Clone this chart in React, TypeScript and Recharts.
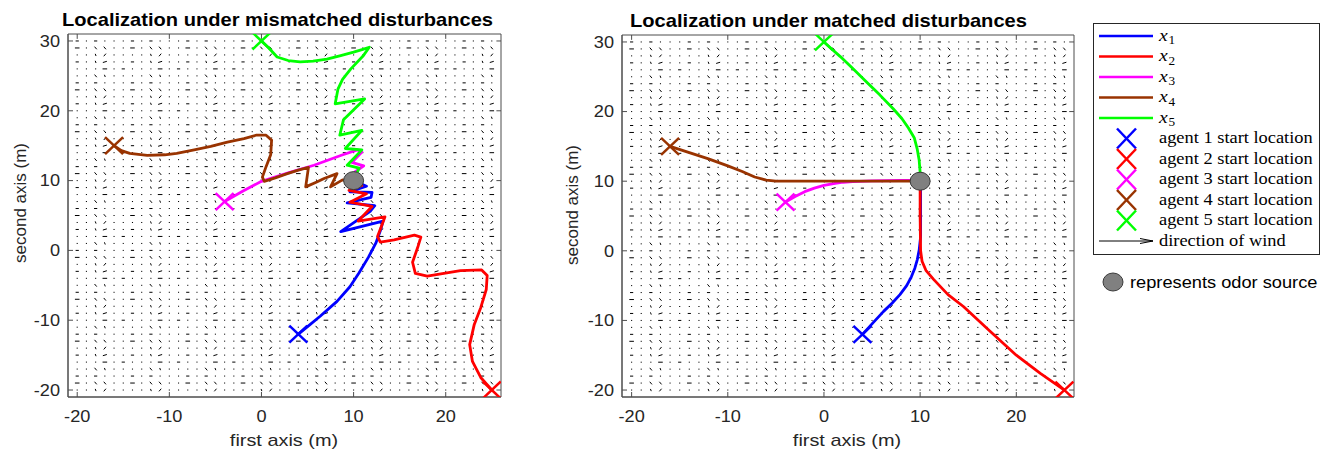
import React from "react";
import { ScatterChart, Scatter, XAxis, YAxis, ReferenceArea, ReferenceLine } from "recharts";

// ---- data ----
const AGENT_COLORS = ["#0000ff", "#ff0000", "#ff00ff", "#993300", "#00ff00"];
const AGENT_NAMES = ["1", "2", "3", "4", "5"];

const X_TICKS = [-20, -10, 0, 10, 20];
const Y_TICKS = [-20, -10, 0, 10, 20, 30];
const X_DOMAIN: [number, number] = [-21, 26];
const Y_DOMAIN: [number, number] = [-21, 31];

const START_X = [4, 25, -4, -16, 0];
const START_Y = [-12, -20, 7, 15, 30];
const SOURCE = [{ x: 10, y: 10 }];

const TITLES = ["Localization under mismatched disturbances", "Localization under matched disturbances"];
const X_LABEL = "first axis (m)";
const Y_LABEL = "second axis (m)";

// mismatched disturbances (left)
const mis1 = [[4, -12], [5.2, -10.7], [6.4, -9.4], [8.2, -7.3], [9.6, -5.2], [10.6, -3.2], [11.6, -1.0], [12.4, 1.0], [12.9, 2.8], [13.2, 4.2], [8.6, 2.7], [11.8, 5.6], [12.3, 6.4], [9.3, 6.8], [11.9, 7.6], [12.0, 8.3], [9.6, 8.4], [11.4, 9.2], [10, 10]];
const mis2 = [[25, -20], [23.8, -18.2], [22.9, -15.9], [22.6, -13.5], [23.1, -10.6], [23.8, -8.2], [24.4, -5.6], [24.5, -3.6], [23.9, -2.8], [21.6, -2.9], [18.0, -3.7], [16.7, -3.3], [16.4, -1.7], [17.0, 0.6], [17.3, 1.9], [16.6, 2.2], [14.4, 1.5], [12.9, 1.2], [12.6, 2.0], [13.4, 4.8], [10.5, 4.2], [12.0, 6.3], [9.6, 6.9], [11.4, 8.1], [9.5, 8.6], [10.9, 9.3], [10, 10]];
const mis3 = [[-4, 7], [-2, 8.5], [0, 9.9], [2.9, 11.1], [5.7, 12.2], [8.6, 13.6], [10.4, 14.4], [10.9, 14.1], [9.8, 12.6], [11.1, 12.1], [10.1, 11.2], [10, 10]];
const mis4 = [[-16, 15], [-15.2, 14.3], [-14.3, 13.9], [-12.4, 13.6], [-10.5, 13.7], [-9.2, 13.9], [-7.3, 14.4], [-5.5, 14.9], [-3.7, 15.5], [-1.9, 16.0], [-0.6, 16.5], [0.5, 16.5], [1.1, 15.8], [1.0, 13.7], [0.5, 12.0], [0.1, 10.5], [0.3, 9.9], [1.5, 10.4], [2.8, 11.0], [4.0, 11.5], [5.1, 11.9], [4.8, 9.1], [6.0, 9.8], [6.8, 10.3], [8.2, 11.0], [7.5, 9.1], [8.8, 10.1], [10, 10]];
const mis5 = [[0, 30], [0.8, 29], [1.7, 27.7], [2.9, 27.2], [4.2, 27.0], [5.6, 27.1], [7.1, 27.4], [8.6, 27.9], [10.0, 28.4], [11.0, 28.8], [11.7, 29.1], [11.0, 27.8], [9.7, 26.0], [8.8, 24.5], [8.3, 23.1], [8.0, 21.0], [11.2, 21.7], [8.9, 18.7], [8.5, 16.5], [10.9, 17.2], [9.1, 14.6], [10.9, 14.4], [9.3, 12.2], [10.6, 11.8], [10, 10]];

// matched disturbances (right)
const mat1 = [[4, -12], [5, -10.5], [6.2, -8.7], [7.1, -7.5], [7.9, -6.3], [8.6, -5.0], [9.1, -3.7], [9.45, -2.5], [9.7, -1.3], [9.9, 0.1], [10.05, 2], [10.05, 10]];
const mat2 = [[25, -20], [22.5, -17.6], [20, -15], [17.3, -11.6], [14.5, -8], [12.9, -6.3], [11.4, -4.1], [10.6, -2.8], [10.2, -1.5], [10.05, 0], [10, 5], [10, 10]];
const mat3 = [[-4, 7], [-3, 7.8], [-2, 8.5], [-1, 9.0], [0, 9.4], [1, 9.65], [2, 9.85], [3, 9.95], [5, 10.05], [8, 10.1], [10, 10.1]];
const mat4 = [[-16, 15], [-14, 14.1], [-12, 13.2], [-10, 12.2], [-8.5, 11.4], [-7.2, 10.6], [-6, 10.15], [-5, 10], [0, 10], [5, 10], [10, 10]];
const mat5 = [[0, 30], [0.8, 29], [1.7, 27.9], [3, 26.2], [4.4, 24.3], [5.8, 22.4], [7.2, 20.4], [8.1, 19], [8.8, 17.6], [9.4, 16.2], [9.7, 14.6], [9.9, 13], [10, 11.3], [10, 10]];

// wind field: small repeating pattern of arrow glyphs on the 1 m grid (top row first)
const WIND_TILE = [
  "-.'~..",
  "...=.-",
  "..\\'..",
  "-.-...",
  "=.\\\\..",
  "..'/..",
];
const WIND_XS = [-20, 25];
const WIND_YS = [-20, 30];

// ---- helpers ----
const FRAME = "#4d4d4d";
const TXT = "#262626";
const SANS = "'Liberation Sans', Arial, Helvetica, sans-serif";
const SERIF = "'Liberation Serif', 'Times New Roman', serif";

const toPts = (arr: number[][]) => arr.map(([x, y]) => ({ x, y }));

const windData: { x: number; y: number; g: string }[] = [];
for (let y = WIND_YS[0]; y <= WIND_YS[1]; y++) {
  for (let x = WIND_XS[0]; x <= WIND_XS[1]; x++) {
    const r = (((y + 20) % 6) + 6) % 6;
    const c = (((x + 20) % 6) + 6) % 6;
    windData.push({ x, y, g: WIND_TILE[5 - r][c] });
  }
}

const GLYPHS: Record<string, [number, number]> = {
  "-": [3.2, 0],
  "=": [4.6, 0],
  "~": [4, -1.2],
  ".": [1.1, 0],
  ":": [0, 2.2],
  "'": [0.8, 2.2],
  "\\": [2.2, 2.6],
  "/": [2.2, -2.6],
};

const WindMark = (p: any) => {
  const [dx, dy] = GLYPHS[p.payload.g] || [1, 0];
  return <line x1={p.cx - dx / 2} y1={p.cy - dy / 2} x2={p.cx + dx / 2} y2={p.cy + dy / 2} stroke="#000" strokeWidth={1} />;
};

const Empty = () => <g />;

const crossShape = (color: string) => (p: any) => (
  <g stroke={color} strokeWidth={2.5}>
    <line x1={p.cx - 9} y1={p.cy - 8.5} x2={p.cx + 9} y2={p.cy + 8.5} />
    <line x1={p.cx - 9} y1={p.cy + 8.5} x2={p.cx + 9} y2={p.cy - 8.5} />
  </g>
);

const SourceMark = (p: any) => <ellipse cx={p.cx} cy={p.cy} rx={10} ry={9} fill="#808080" stroke="#3a3a3a" strokeWidth={1} />;

const XTick = (p: any) => (
  <text transform={`translate(${p.x},${p.y}) scale(1.1,1)`} textAnchor="middle" fontSize={16.5} fontFamily={SANS} fill={TXT}>
    {p.payload.value}
  </text>
);

const YTick = (p: any) => (
  <text transform={`translate(${p.x},${p.y + 5.8}) scale(1.1,1)`} textAnchor="end" fontSize={16.5} fontFamily={SANS} fill={TXT}>
    {p.payload.value}
  </text>
);

function Panel({ paths, left, width, top, mLeft, mRight }: any) {
  return (
    <div style={{ position: "absolute", left, top: 0 }}>
      <ScatterChart width={width} height={456} margin={{ top, right: mRight, bottom: 19, left: mLeft }}>
        <XAxis type="number" dataKey="x" domain={X_DOMAIN} ticks={X_TICKS} interval={0} allowDataOverflow height={40}
          tickSize={-5} tickMargin={30} tick={XTick} axisLine={{ stroke: FRAME }} tickLine={{ stroke: FRAME }} />
        <YAxis type="number" dataKey="y" domain={Y_DOMAIN} ticks={Y_TICKS} interval={0} allowDataOverflow width={40}
          tickSize={-5} tickMargin={13} tick={YTick} axisLine={{ stroke: FRAME }} tickLine={{ stroke: FRAME }} />
        <Scatter data={windData} shape={WindMark} isAnimationActive={false} />
        {X_TICKS.map((t) => (
          <ReferenceLine key={"tx" + t} segment={[{ x: t, y: 31 }, { x: t, y: 30.3 }]} stroke={FRAME} ifOverflow="visible" />
        ))}
        {Y_TICKS.map((t) => (
          <ReferenceLine key={"ty" + t} segment={[{ x: 26, y: t }, { x: 25.5, y: t }]} stroke={FRAME} ifOverflow="visible" />
        ))}
        <ReferenceArea x1={-21} x2={26} y1={-21} y2={31} fill="none" stroke={FRAME} strokeWidth={1} ifOverflow="visible" />
        {paths.map((p: number[][], i: number) => (
          <Scatter key={"p" + i} data={toPts(p)} fill={AGENT_COLORS[i]} shape={Empty} isAnimationActive={false}
            line={{ stroke: AGENT_COLORS[i], strokeWidth: 2.8, strokeLinejoin: "round", strokeLinecap: "round" }} />
        ))}
        {START_X.map((x, i) => (
          <Scatter key={"s" + i} data={[{ x, y: START_Y[i] }]} shape={crossShape(AGENT_COLORS[i])} isAnimationActive={false} />
        ))}
        <Scatter data={SOURCE} shape={SourceMark} isAnimationActive={false} />
      </ScatterChart>
    </div>
  );
}

const LEG_ROWS = [36, 56.5, 77, 97.5, 118, 138.5, 159, 179.5, 200, 220.5, 241];

export default function App() {
  return (
    <div style={{ position: "absolute", left: 0, top: 0, width: 1328, height: 456, background: "#fff" }}>
      <Panel paths={[mis1, mis2, mis3, mis4, mis5]} left={0} width={520} top={34} mLeft={28} mRight={19} />
      <Panel paths={[mat1, mat2, mat3, mat4, mat5]} left={560} width={530} top={35} mLeft={22} mRight={16} />
      <svg width={1328} height={456} style={{ position: "absolute", left: 0, top: 0, pointerEvents: "none" }}>
        <text x={62} y={26} fontSize={18.5} fontWeight="bold" fontFamily={SANS} textLength={431} lengthAdjust="spacingAndGlyphs">{TITLES[0]}</text>
        <text x={630} y={26.5} fontSize={18.5} fontWeight="bold" fontFamily={SANS} textLength={397} lengthAdjust="spacingAndGlyphs">{TITLES[1]}</text>
        <text transform="translate(284,446) scale(1.17,1)" textAnchor="middle" fontSize={17} fontFamily={SANS} fill={TXT}>{X_LABEL}</text>
        <text transform="translate(847,446) scale(1.17,1)" textAnchor="middle" fontSize={17} fontFamily={SANS} fill={TXT}>{X_LABEL}</text>
        <text transform="translate(26,203) rotate(-90)" textAnchor="middle" fontSize={17} fontFamily={SANS} fill={TXT}>{Y_LABEL}</text>
        <text transform="translate(578,205) rotate(-90)" textAnchor="middle" fontSize={17} fontFamily={SANS} fill={TXT}>{Y_LABEL}</text>

        <rect x={1093.5} y={23.5} width={226} height={231} fill="#fff" stroke={TXT} strokeWidth={1} />
        {AGENT_COLORS.map((c, i) => (
          <g key={"l" + i}>
            <line x1={1099} x2={1153} y1={LEG_ROWS[i]} y2={LEG_ROWS[i]} stroke={c} strokeWidth={2.5} />
            <text transform={`translate(1159,${LEG_ROWS[i] + 4.7}) scale(1.15,1)`} fontSize={17} fontFamily={SERIF} fontStyle="italic" fill="#000">x</text>
            <text transform={`translate(1168.5,${LEG_ROWS[i] + 8}) scale(1.15,1)`} fontSize={11.5} fontFamily={SERIF} fill="#000">{AGENT_NAMES[i]}</text>
          </g>
        ))}
        {AGENT_COLORS.map((c, i) => {
          const cy = LEG_ROWS[i + 5];
          return (
            <g key={"m" + i}>
              <g stroke={c} strokeWidth={2.5}>
                <line x1={1117} y1={cy - 10} x2={1136} y2={cy + 10} />
                <line x1={1117} y1={cy + 10} x2={1136} y2={cy - 10} />
              </g>
              <text transform={`translate(1159,${cy + 4.8}) scale(1.15,1)`} fontSize={16} fontFamily={SERIF} fill="#000">{`agent ${AGENT_NAMES[i]} start location`}</text>
            </g>
          );
        })}
        <g stroke="#000" strokeWidth={1} fill="none">
          <line x1={1099} x2={1153} y1={LEG_ROWS[10]} y2={LEG_ROWS[10]} />
          <polyline points={`1140,${LEG_ROWS[10] - 2.5} 1153,${LEG_ROWS[10]} 1140,${LEG_ROWS[10] + 2.5}`} />
        </g>
        <text transform={`translate(1159,${LEG_ROWS[10] + 4.8}) scale(1.15,1)`} fontSize={16} fontFamily={SERIF} fill="#000">direction of wind</text>

        <ellipse cx={1113} cy={282} rx={10} ry={9} fill="#808080" stroke="#3a3a3a" strokeWidth={1} />
        <text transform="translate(1130,288) scale(1.14,1)" fontSize={16} fontFamily={SANS} fill="#000">represents odor source</text>
      </svg>
    </div>
  );
}
